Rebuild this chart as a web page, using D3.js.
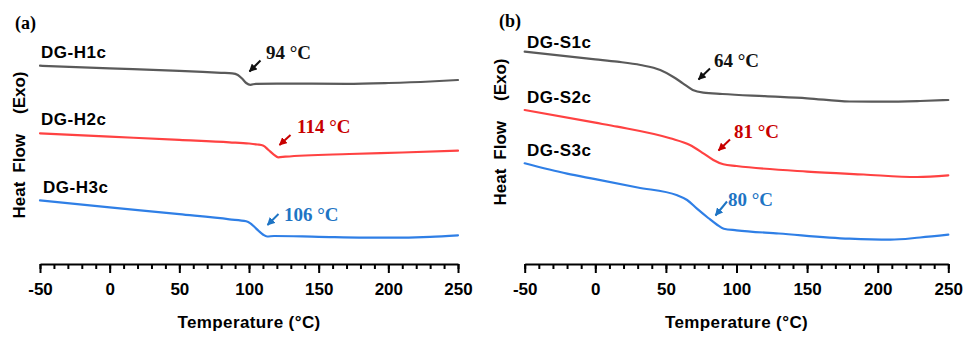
<!DOCTYPE html>
<html>
<head>
<meta charset="utf-8">
<script src="https://cdn.jsdelivr.net/npm/d3@7"></script>
<style>
  html, body { margin: 0; padding: 0; background: #fff; }
  svg { display: block; }
</style>
</head>
<body>
<svg id="chart" width="967" height="344"></svg>
<script>
// DSC traces (temperature in °C, heat flow in arbitrary units, curves offset for clarity)
const temps_H1c = [-50, 0, 50, 80, 88, 92, 95, 98, 101, 105, 120, 170, 200, 230, 250];
const flow_H1c  = [19.83, 19.57, 19.31, 19.12, 19.07, 18.9, 18.55, 18.1, 17.92, 18.02, 18.04, 18.02, 18.1, 18.25, 18.4];

const temps_H2c = [-50, 0, 50, 86, 100, 106, 110, 114, 118, 121, 126, 172, 210, 250];
const flow_H2c  = [13.07, 12.74, 12.41, 12.17, 12.05, 11.95, 11.85, 11.4, 10.92, 10.67, 10.73, 11.0, 11.15, 11.33];

const temps_H3c = [-50, 0, 50, 86, 98, 101, 104, 107, 110, 113, 118, 150, 200, 230, 250];
const flow_H3c  = [6.37, 5.67, 4.98, 4.47, 4.27, 4.07, 3.7, 3.3, 2.95, 2.75, 2.8, 2.72, 2.63, 2.72, 2.87];

const temps_S1c = [-50, 0, 15.6, 32, 46, 55, 62, 69, 76.5, 90, 120, 150, 180, 205, 230, 250];
const flow_S1c  = [21.23, 20.47, 20.23, 19.9, 19.4, 18.73, 18.07, 17.4, 17.13, 17.0, 16.78, 16.57, 16.25, 16.23, 16.3, 16.4];

const temps_S2c = [-50, 0, 15.6, 53, 67, 76.5, 83.6, 90.7, 100, 150, 190, 228, 250];
const flow_S2c  = [15.4, 14.13, 13.73, 12.57, 11.9, 11.07, 10.4, 9.97, 9.8, 9.24, 8.95, 8.7, 8.87];

const temps_S3c = [-50, -20, 0, 30, 58, 65, 72, 80, 86, 91, 100, 130, 180, 209, 230, 250];
const flow_S3c  = [10.07, 9.03, 8.48, 7.65, 6.87, 6.4, 5.53, 4.6, 3.95, 3.53, 3.37, 3.05, 2.53, 2.43, 2.65, 2.93];

// Sample names and glass transition temperatures
const names_a = ["DG-H1c", "DG-H2c", "DG-H3c"];
const tg_a    = [94, 114, 106];
const names_b = ["DG-S1c", "DG-S2c", "DG-S3c"];
const tg_b    = [64, 81, 80];

// Axis ticks
const majorTicks = [-50, 0, 50, 100, 150, 200, 250];
const minorTicks = d3.range(-50, 251, 10);

// Styling
const lineColors = ["#5a5a5a", "#ff4242", "#2f7fe6"];
const noteColors = ["#111111", "#c80000", "#1e74c4"];

const svg = d3.select("#chart");
const sansFont = "'Liberation Sans', Arial, Helvetica, sans-serif";
const serifFont = "'Liberation Serif', 'Times New Roman', serif";

// Page layout for each panel: plot range, label placement, annotation placement
const panels = [
  {
    tag: "(a)", tagX: 15, tagY: 29,
    x0: 40, x1: 458,
    yLabelX: 25, yLabelY: 145,
    names: names_a, tg: tg_a,
    series: [[temps_H1c, flow_H1c], [temps_H2c, flow_H2c], [temps_H3c, flow_H3c]],
    nameLayout: [[41, 58], [41, 125], [43, 193]],
    noteLayout: [
      { tx: 266, ty: 59, ax: 260.5, ay: 60.5, hx: 249.5, hy: 71.5 },
      { tx: 297, ty: 133, ax: 290.5, ay: 135, hx: 279.5, hy: 145 },
      { tx: 284, ty: 220.5, ax: 278.5, ay: 214, hx: 267.5, hy: 225 }
    ]
  },
  {
    tag: "(b)", tagX: 499, tagY: 27,
    x0: 524.7, x1: 948.3,
    yLabelX: 506, yLabelY: 132,
    names: names_b, tg: tg_b,
    series: [[temps_S1c, flow_S1c], [temps_S2c, flow_S2c], [temps_S3c, flow_S3c]],
    nameLayout: [[527, 48], [527, 103], [527, 156]],
    noteLayout: [
      { tx: 714, ty: 67, ax: 710, ay: 68.5, hx: 698.5, hy: 79.5 },
      { tx: 734, ty: 137.5, ax: 730, ay: 139.5, hx: 718.5, hy: 150.5 },
      { tx: 728, ty: 205.5, ax: 727, ay: 201.5, hx: 715.5, hy: 215.5 }
    ]
  }
];

const axisY = 264;

// Arrowhead markers, one per colour
const defs = svg.append("defs");
noteColors.forEach((c, i) => {
  defs.append("marker")
    .attr("id", "arrow" + i)
    .attr("viewBox", "0 0 10 10")
    .attr("refX", 9).attr("refY", 5)
    .attr("markerUnits", "userSpaceOnUse")
    .attr("markerWidth", 8).attr("markerHeight", 8)
    .attr("orient", "auto")
    .append("path")
    .attr("d", "M0,0 L10,5 L0,10 Z")
    .attr("fill", c);
});

panels.forEach(p => {
  const g = svg.append("g");
  const x = d3.scaleLinear().domain([-50, 250]).range([p.x0, p.x1]);
  const y = d3.scaleLinear().domain([0, 23]).range([axisY, axisY - 230]);

  // Minor ticks
  g.append("g")
    .attr("transform", `translate(0,${axisY})`)
    .call(d3.axisBottom(x).tickValues(minorTicks).tickSize(5).tickSizeOuter(0).tickFormat(""))
    .call(s => s.select(".domain").remove())
    .call(s => s.selectAll("line").attr("stroke", "#000").attr("stroke-width", 2));

  // Major ticks with labels
  g.append("g")
    .attr("transform", `translate(0,${axisY})`)
    .call(d3.axisBottom(x).tickValues(majorTicks).tickSize(9).tickSizeOuter(0).tickPadding(10).tickFormat(d => String(d)))
    .call(s => s.select(".domain").attr("stroke", "#000").attr("stroke-width", 2))
    .call(s => s.selectAll("line").attr("stroke", "#000").attr("stroke-width", 2))
    .call(s => s.selectAll("text")
      .attr("fill", "#000")
      .style("font-family", sansFont)
      .style("font-weight", "bold")
      .style("font-size", "17px"));

  // X axis title
  g.append("text")
    .attr("x", (p.x0 + p.x1) / 2)
    .attr("y", 328)
    .attr("text-anchor", "middle")
    .style("font-family", sansFont)
    .style("font-weight", "bold")
    .style("font-size", "17px")
    .style("letter-spacing", "0.4px")
    .text("Temperature (°C)");

  // Y axis title
  const yl = g.append("text")
    .attr("transform", `translate(${p.yLabelX},${p.yLabelY}) rotate(-90)`)
    .attr("text-anchor", "middle")
    .style("font-family", sansFont)
    .style("font-weight", "bold")
    .style("font-size", "17px");
  yl.append("tspan").text("Heat");
  yl.append("tspan").attr("dx", 9).text("Flow");
  yl.append("tspan").attr("dx", 20).text("(Exo)");

  // Panel tag
  g.append("text")
    .attr("x", p.tagX).attr("y", p.tagY)
    .style("font-family", serifFont)
    .style("font-weight", "bold")
    .style("font-size", "18px")
    .text(p.tag);

  // Curves
  const line = d3.line()
    .x(d => x(d[0]))
    .y(d => y(d[1]))
    .curve(d3.curveMonotoneX);

  p.series.forEach(([t, f], i) => {
    const pts = t.map((v, k) => [v, f[k]]);
    g.append("path")
      .datum(pts)
      .attr("d", line)
      .attr("fill", "none")
      .attr("stroke", lineColors[i])
      .attr("stroke-width", 2.2)
      .attr("stroke-linejoin", "round")
      .attr("stroke-linecap", "round");

    // Sample name
    g.append("text")
      .attr("x", p.nameLayout[i][0])
      .attr("y", p.nameLayout[i][1])
      .style("font-family", sansFont)
      .style("font-weight", "bold")
      .style("font-size", "17px")
      .style("letter-spacing", "0.5px")
      .text(p.names[i]);

    // Tg annotation
    const n = p.noteLayout[i];
    g.append("line")
      .attr("x1", n.ax).attr("y1", n.ay)
      .attr("x2", n.hx).attr("y2", n.hy)
      .attr("stroke", noteColors[i])
      .attr("stroke-width", 2)
      .attr("marker-end", `url(#arrow${i})`);

    g.append("text")
      .attr("x", n.tx).attr("y", n.ty)
      .attr("fill", noteColors[i])
      .style("font-family", serifFont)
      .style("font-weight", "bold")
      .style("font-size", "19px")
      .text(`${p.tg[i]} °C`);
  });
});
</script>
</body>
</html>
